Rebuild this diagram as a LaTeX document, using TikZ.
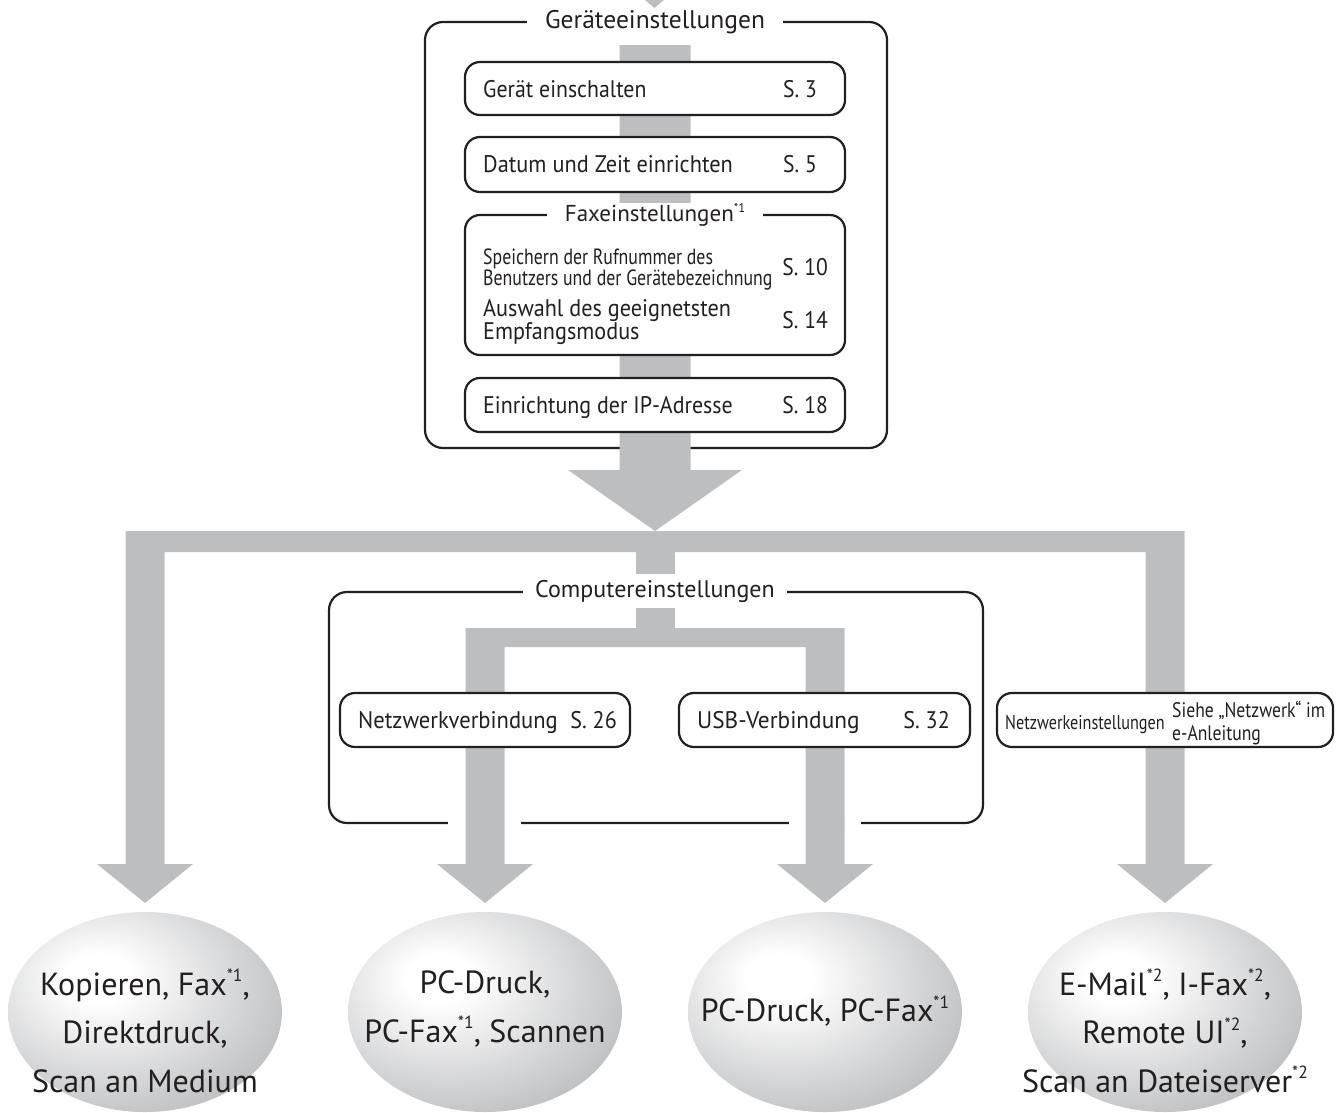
\documentclass[tikz,border=0pt]{standalone}
\usepackage{fontspec}
\setmainfont{PT Sans}
\usepackage{graphicx}
\usetikzlibrary{shapes.geometric}
\definecolor{barg}{RGB}{188,190,192}
\definecolor{ink}{RGB}{35,31,32}
\definecolor{rim}{RGB}{166,168,171}
\pgfdeclareradialshading{sphere}{\pgfpoint{-9bp}{9bp}}{color(0bp)=(white); color(6bp)=(white); color(25bp)=(rim!50!white); color(45bp)=(rim); color(50bp)=(rim!94!black); color(100bp)=(rim!94!black)}
\newcommand\fnm[1]{\raisebox{0.42em}{\scalebox{0.55}{*#1}}}
\newcommand\hs[2]{\scalebox{#1}[1]{#2}}
\begin{document}
\begin{tikzpicture}[x=1pt,y=-1pt,
  frame/.style={draw=ink,line width=2.2pt},
  ibox/.style={draw=ink,line width=2.2pt,fill=white,rounded corners=15pt,inner sep=0pt},
  ttl/.style={fill=white,text=ink,inner ysep=0pt},
  txt/.style={text=ink,inner sep=0pt},
  f24/.style={font=\fontsize{24}{26}\selectfont},
  f32/.style={font=\fontsize{32}{48.5}\selectfont},
  ball/.style={ellipse,shading=sphere,minimum width=274pt,minimum height=200pt,inner sep=0pt}]
\useasboundingbox (0,0) rectangle (1341,1112);

% top incoming arrow tip
\fill[barg] (645,0) -- (664,0) -- (654.5,8) -- cycle;

% outer box
\draw[frame,rounded corners=18pt] (425,22) rectangle (887,448);

% main vertical bar with big arrowhead
\fill[barg] (619.5,45) -- (690.5,45) -- (690.5,470) -- (742,470) -- (655,531) -- (568,470) -- (619.5,470) -- cycle;

% inner boxes
\node[ibox,minimum width=380pt,minimum height=53pt] (b1) at (655,88.5) {};
\node[txt,f24,anchor=base west] (b1t) at (483,97.5) {\hs{0.91}{Gerät einschalten}};
\node[txt,f24,anchor=base east] (b1p) at (817,97.5) {\hs{0.9}{S. 3}};

\node[ibox,minimum width=380pt,minimum height=55pt] (b2) at (655,164.5) {};
\node[txt,f24,anchor=base west] (b2t) at (483,172.5) {\hs{0.93}{Datum und Zeit einrichten}};
\node[txt,f24,anchor=base east] (b2p) at (817,172.5) {\hs{0.9}{S. 5}};

\node[ibox,minimum width=380pt,minimum height=140pt] (fax) at (655,285) {};
\node[ttl,font=\fontsize{23}{25}\selectfont,inner xsep=18pt,minimum height=20pt] (faxt) at (655,215) {Faxeinstellungen\fnm{1}};
\node[txt,anchor=base west,font=\fontsize{22}{22}\selectfont] (f1a) at (483,264.5) {\hs{0.81}{Speichern der Rufnummer des}};
\node[txt,anchor=base west,font=\fontsize{22}{22}\selectfont] (f1b) at (483,285.5) {\hs{0.81}{Benutzers und der Gerätebezeichnung}};
\node[txt,f24,anchor=base east] (f1p) at (828,275.5) {\hs{0.9}{S. 10}};
\node[txt,anchor=base west,font=\fontsize{24}{23}\selectfont] (f2a) at (483,316) {\hs{0.925}{Auswahl des geeignetsten}};
\node[txt,anchor=base west,font=\fontsize{24}{23}\selectfont] (f2b) at (483,339) {\hs{0.925}{Empfangsmodus}};
\node[txt,f24,anchor=base east] (f2p) at (828,328.5) {\hs{0.9}{S. 14}};

\node[ibox,minimum width=380pt,minimum height=54pt] (ip) at (655,405) {};
\node[txt,f24,anchor=base west] (ipt) at (483,413.5) {\hs{0.915}{Einrichtung der IP-Adresse}};
\node[txt,f24,anchor=base east] (ipp) at (828,413.5) {\hs{0.9}{S. 18}};

\node[ttl,font=\fontsize{25.5}{27}\selectfont,inner xsep=18pt,minimum height=22pt] (geraet) at (655,22) {Geräteeinstellungen};

% big bracket
\fill[barg] (125.5,531) -- (1184.5,531) -- (1184.5,864) -- (1213,864) -- (1165,903) -- (1117,864) -- (1145.5,864) -- (1145.5,552) -- (164.5,552) -- (164.5,864) -- (193,864) -- (145,903) -- (97,864) -- (125.5,864) -- cycle;

% computer box
\draw[frame,rounded corners=18pt] (329,592) rectangle (983,823);
\fill[white] (448,815) rectangle (521,831);
\fill[white] (789,815) rectangle (861,831);
\fill[barg] (635.5,552) rectangle (674.5,628);
\fill[barg] (465.5,628) -- (844.5,628) -- (844.5,864) -- (873,864) -- (825,903) -- (777,864) -- (805.5,864) -- (805.5,647) -- (504.5,647) -- (504.5,864) -- (533,864) -- (485,903) -- (437,864) -- (465.5,864) -- cycle;
\node[ttl,inner xsep=12pt,minimum height=34pt,font=\fontsize{24}{26}\selectfont] (comp) at (655,591) {Computereinstellungen};

% connection boxes
\node[ibox,minimum width=290pt,minimum height=54pt] (nw) at (485,720) {};
\node[txt,anchor=base west,font=\fontsize{24}{26}\selectfont] (nwt) at (358,728.5) {\hs{0.94}{Netzwerkverbindung}};
\node[txt,anchor=base east,font=\fontsize{24}{26}\selectfont] (nwp) at (617,728.5) {\hs{0.92}{S. 26}};

\node[ibox,minimum width=291pt,minimum height=54pt] (usb) at (824.5,720) {};
\node[txt,anchor=base west,font=\fontsize{24}{26}\selectfont] (usbt) at (697,728.5) {\hs{0.97}{USB-Verbindung}};
\node[txt,anchor=base east,font=\fontsize{24}{26}\selectfont] (usbp) at (950,728.5) {\hs{0.92}{S. 32}};

\node[ibox,minimum width=336pt,minimum height=54pt] (ns) at (1165,720) {};
\node[txt,anchor=base west,font=\fontsize{20}{21}\selectfont] (nst) at (1005,729) {\hs{0.81}{Netzwerkeinstellungen}};
\node[txt,anchor=base west,font=\fontsize{21}{22}\selectfont] (nsa) at (1172,717) {\hs{0.84}{Siehe „Netzwerk“ im}};
\node[txt,anchor=base west,font=\fontsize{21}{22}\selectfont] (nsb) at (1172,740) {\hs{0.84}{e-Anleitung}};

% result balls
\node[ball] (e1) at (145,1012) {};
\node[ball] (e2) at (485,1012) {};
\node[ball] (e3) at (825,1012) {};
\node[ball] (e4) at (1165,1012) {};
\node[txt,f32,align=center] (e1t) at (145,1031) {Kopieren, Fax\fnm{1},\\Direktdruck,\\Scan an Medium};
\node[txt,f32,align=center] (e2t) at (485,1009) {PC-Druck,\\PC-Fax\fnm{1}, Scannen};
\node[txt,f32] (e3t) at (825,1011) {PC-Druck, PC-Fax\fnm{1}};
\node[txt,f32,align=center] (e4t) at (1165,1031) {E-Mail\fnm{2}, I-Fax\fnm{2},\\Remote UI\fnm{2},\\Scan an Dateiserver\fnm{2}};
\end{tikzpicture}
\end{document}
